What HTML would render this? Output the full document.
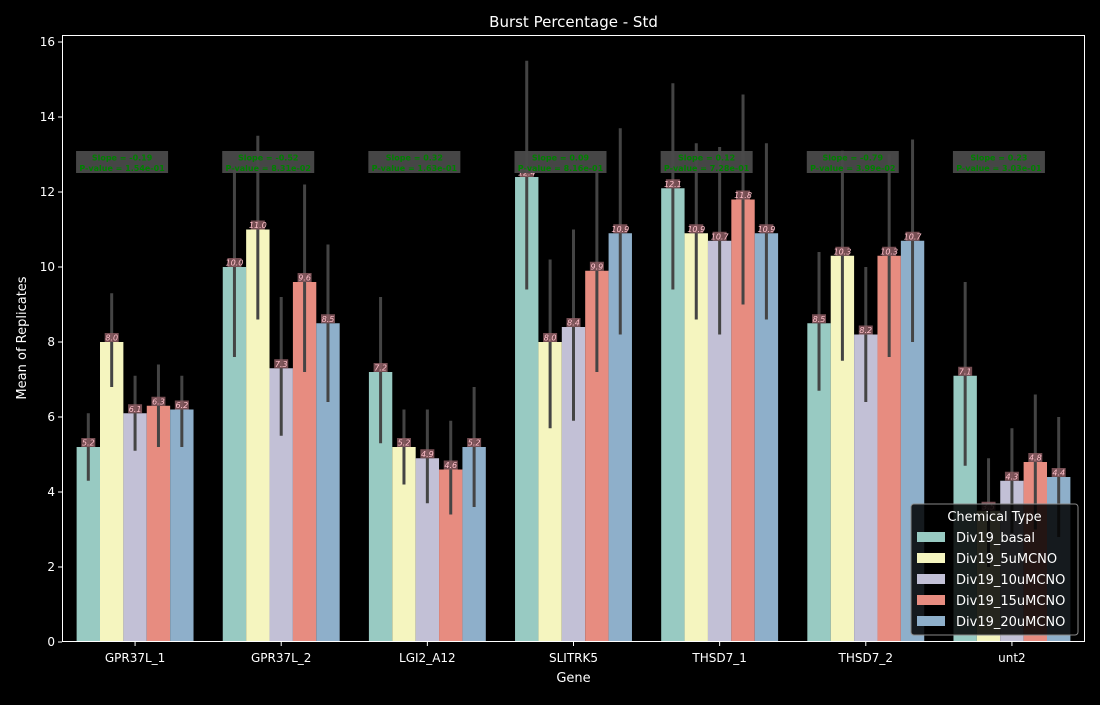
<!DOCTYPE html>
<html><head><meta charset="utf-8"><style>
body{margin:0;background:#000;}
svg text{font-family:"DejaVu Sans","Liberation Sans",sans-serif;}
</style></head><body>
<svg id="chart" width="1100" height="700" xmlns="http://www.w3.org/2000/svg">
<rect width="1100" height="700" fill="#000"/>
<text x="573.5" y="27" fill="#fff" font-size="15" text-anchor="middle">Burst Percentage - Std</text>
<g id="grid"></g>
<g id="bars"></g>
<g id="ann"></g>
<rect x="62.5" y="35.5" width="1022" height="606" fill="none" stroke="#fff" stroke-width="1"/>
<text x="573.5" y="682" fill="#fff" font-size="13" text-anchor="middle">Gene</text>
<text transform="translate(26,338) rotate(-90)" fill="#fff" font-size="13" text-anchor="middle">Mean of Replicates</text>
<g id="legend"></g>
</svg>
<script>
const genes=["GPR37L_1","GPR37L_2","LGI2_A12","SLITRK5","THSD7_1","THSD7_2","unt2"];
const seriesNames=["Div19_basal","Div19_5uMCNO","Div19_10uMCNO","Div19_15uMCNO","Div19_20uMCNO"];
const basal=[5.2,10.0,7.2,12.4,12.1,8.5,7.1];
const cno5=[8.0,11.0,5.2,8.0,10.9,10.3,3.5];
const cno10=[6.1,7.3,4.9,8.4,10.7,8.2,4.3];
const cno15=[6.3,9.6,4.6,9.9,11.8,10.3,4.8];
const cno20=[6.2,8.5,5.2,10.9,10.9,10.7,4.4];
const basalLo=[4.3,7.6,5.3,9.4,9.4,6.7,4.7], basalHi=[6.1,12.6,9.2,15.5,14.9,10.4,9.6];
const cno5Lo=[6.8,8.6,4.2,5.7,8.6,7.5,2.0], cno5Hi=[9.3,13.5,6.2,10.2,13.3,13.1,4.9];
const cno10Lo=[5.1,5.5,3.7,5.9,8.2,6.4,2.9], cno10Hi=[7.1,9.2,6.2,11.0,13.2,10.0,5.7];
const cno15Lo=[5.2,7.2,3.4,7.2,9.0,7.6,3.0], cno15Hi=[7.4,12.2,5.9,12.6,14.6,13.0,6.6];
const cno20Lo=[5.2,6.4,3.6,8.2,8.6,8.0,2.8], cno20Hi=[7.1,10.6,6.8,13.7,13.3,13.4,6.0];
const slopes=["-0.19","-0.52","0.32","0.09","0.12","-0.79","0.23"];
const pvals=["1.54e-01","8.31e-02","1.63e-01","8.16e-01","7.28e-01","3.99e-02","3.03e-01"];
const yTicks=[0,2,4,6,8,10,12,14,16];

const NS="http://www.w3.org/2000/svg";
const colors=["#98cac2","#f5f5bf","#c2c0d6","#e78c80","#8eafca"];
const vals=[basal,cno5,cno10,cno15,cno20];
const los=[basalLo,cno5Lo,cno10Lo,cno15Lo,cno20Lo];
const his=[basalHi,cno5Hi,cno10Hi,cno15Hi,cno20Hi];
const plotL=62,plotR=1085,y0=642,pxPerUnit=37.5;
const y=v=>y0-v*pxPerUnit;
const band=(plotR-plotL)/genes.length;
const xc=i=>plotL+band*(i+0.5);
const bw=band*0.8/seriesNames.length;
function el(tag,attrs,parent){const e=document.createElementNS(NS,tag);for(const k in attrs)e.setAttribute(k,attrs[k]);parent.appendChild(e);return e;}
const grid=document.getElementById('grid');
yTicks.forEach(t=>{
  const l=el('line',{x1:plotL-4,x2:plotL,y1:y(t),y2:y(t),stroke:'#fff'},grid);
  
  
  const tx=el('text',{x:plotL-7,y:y(t)+4,fill:'#fff','font-size':12,'text-anchor':'end'},grid);
  
  
  tx.textContent=t;
});
const bars=document.getElementById('bars');
genes.forEach((g,i)=>{
  const tk=el('line',{x1:xc(i),x2:xc(i),y1:y0,y2:y0+4,stroke:'#fff'},grid);
  
  
  const tx=el('text',{x:xc(i),y:y0+20,fill:'#fff','font-size':12,'text-anchor':'middle'},grid);
  
  
  tx.textContent=g;
  vals.forEach((s,j)=>{
    const x=xc(i)-band*0.4+bw*j;
    const r=el('rect',{x:x,y:y(s[i]),width:bw,height:y0-y(s[i]),fill:colors[j]},bars);
    
    
    const cx=x+bw/2;
    const e=el('line',{x1:cx,x2:cx,y1:y(los[j][i]),y2:y(his[j][i]),stroke:'#444',"stroke-width":3},bars);
    
    
    const lb=el('rect',{x:cx-7,y:y(s[i])-9,width:14,height:9,fill:'#8a5a60','fill-opacity':0.85},bars);
    
    
    const lt=el('text',{x:cx,y:y(s[i])-1.5,fill:'#ffc0cb','font-size':8,'font-style':'italic','text-anchor':'middle'},bars);
    
    
    lt.textContent=s[i].toFixed(1);
  });
});
const ann=document.getElementById('ann');
genes.forEach((g,i)=>{
  const cx=xc(i)-13;
  const b=el('rect',{x:cx-46,y:151,width:92,height:22,fill:'#4a4a4a','fill-opacity':0.95},ann);
  
  
  const t1=el('text',{x:cx,y:160.5,fill:'#008000','font-size':8,'font-weight':'bold','text-anchor':'middle'},ann);
  
  
  t1.textContent='Slope = '+slopes[i];
  const t2=el('text',{x:cx,y:171,fill:'#008000','font-size':8,'font-weight':'bold','text-anchor':'middle'},ann);
  
  
  t2.textContent='P-value = '+pvals[i];
});
const lg=document.getElementById('legend');
const box=el('rect',{x:911,y:504,width:167,height:131,rx:3,fill:'#000','fill-opacity':0.85,stroke:'#888'},lg);


const lt=el('text',{x:994.5,y:521,fill:'#fff','font-size':13,'text-anchor':'middle'},lg);


lt.textContent='Chemical Type';
seriesNames.forEach((n,j)=>{
  const yy=537+j*21;
  const sw=el('rect',{x:917,y:yy-5,width:28,height:10,fill:colors[j]},lg);
  
  
  const t=el('text',{x:956,y:yy+5,fill:'#fff','font-size':13},lg);
  
  
  t.textContent=n;
});
</script>
</body></html>
